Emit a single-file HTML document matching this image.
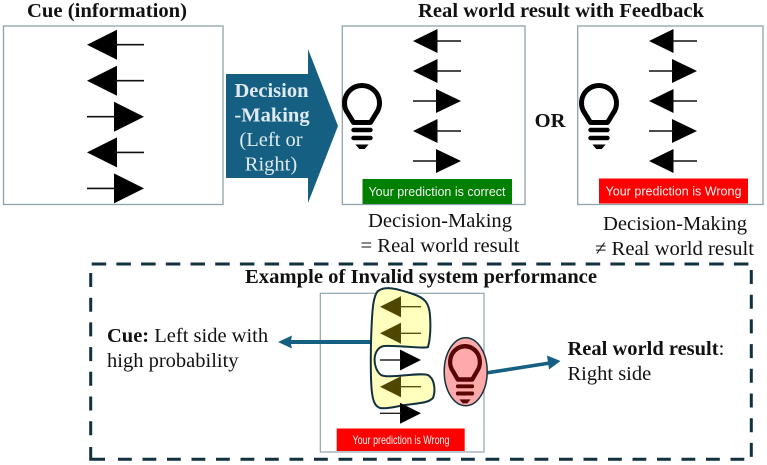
<!DOCTYPE html>
<html><head><meta charset="utf-8"><style>
html,body{margin:0;padding:0;background:#fff}
svg{display:block;filter:blur(.3px)}
text{font-family:"Liberation Serif",serif;fill:#111}
.b{font-weight:bold}
.s{font-family:"Liberation Sans",sans-serif;fill:#f4f4f4;font-size:12.5px}
</style></head><body>
<svg width="767" height="465" viewBox="0 0 767 465" xmlns="http://www.w3.org/2000/svg">
<defs>
<g id="L1"><path d="M-57 0 L-27 -15 L-27 15 Z" fill="#000"/><path d="M-30 0 H0" stroke="#111" stroke-width="1.6"/></g>
<g id="R1"><path d="M0 0 L-30 -15 L-30 15 Z" fill="#000"/><path d="M-57 0 H-28" stroke="#111" stroke-width="1.6"/></g>
<g id="L2"><path d="M-48 0 L-23.5 -12 L-23.5 12 Z" fill="#000"/><path d="M-26 0 H0" stroke="#111" stroke-width="1.5"/></g>
<g id="R2"><path d="M0 0 L-25 -12 L-25 12 Z" fill="#000"/><path d="M-48 0 H-23" stroke="#111" stroke-width="1.5"/></g>
<g id="bulb">
<path d="M-8.5 122.5 L-14 113.5 A17.5 17.5 0 1 1 14 113.5 L8.5 122.5 Z" fill="none" stroke-width="5" stroke-linejoin="round" stroke="currentColor"/>
<path d="M-8.5 130H8.5M-8.5 138H8.5" fill="none" stroke="currentColor" stroke-width="4.4" stroke-linecap="round"/>
<path d="M-5.5 145H5.5L2.5 148.5H-2.5Z" fill="currentColor" stroke="currentColor" stroke-width="1"/>
</g>
</defs>
<rect width="767" height="465" fill="#fff"/>

<text x="27" y="17" class="b" font-size="20.5" textLength="160" lengthAdjust="spacingAndGlyphs">Cue (information)</text>
<text x="418" y="17" class="b" font-size="20.5" textLength="286" lengthAdjust="spacingAndGlyphs">Real world result with Feedback</text>

<rect x="3.5" y="26" width="219.5" height="178.5" fill="#fff" stroke="#8fa3ab" stroke-width="1.3"/>
<use href="#L1" transform="translate(144 44.7)"/>
<use href="#L1" transform="translate(144 80.7)"/>
<use href="#R1" transform="translate(144 116.7)"/>
<use href="#L1" transform="translate(144 152.4)"/>
<use href="#R1" transform="translate(144 188.4)"/>

<path d="M226 74 H308 V49 L338 126 L308 203 V178 H226 Z" fill="#156082"/>
<text x="271.5" y="97" class="b" font-size="20.5" text-anchor="middle" style="fill:#dfeaf0">Decision</text>
<text x="272" y="121.5" class="b" font-size="20.5" text-anchor="middle" style="fill:#dfeaf0">-Making</text>
<text x="271" y="146" font-size="20.5" text-anchor="middle" style="fill:#dfeaf0">(Left or</text>
<text x="271" y="170.5" font-size="20.5" text-anchor="middle" style="fill:#dfeaf0">Right)</text>

<rect x="342.3" y="26" width="182.7" height="178.5" fill="#fff" stroke="#8fa3ab" stroke-width="1.3"/>
<use href="#L2" transform="translate(461 41)"/>
<use href="#L2" transform="translate(461 71)"/>
<use href="#R2" transform="translate(461 101)"/>
<use href="#L2" transform="translate(461 131)"/>
<use href="#R2" transform="translate(461 161)"/>
<use href="#bulb" x="362" style="color:#000"/>
<rect x="362.5" y="179" width="149.5" height="25" fill="#008000"/>
<text x="368.5" y="196" class="s" textLength="137" lengthAdjust="spacingAndGlyphs">Your prediction is correct</text>

<text x="550" y="127" class="b" font-size="20.5" text-anchor="middle">OR</text>

<rect x="577.7" y="26" width="185.3" height="178.5" fill="#fff" stroke="#8fa3ab" stroke-width="1.3"/>
<use href="#L2" transform="translate(697 41)"/>
<use href="#R2" transform="translate(697 71)"/>
<use href="#L2" transform="translate(697 101)"/>
<use href="#R2" transform="translate(697 131)"/>
<use href="#L2" transform="translate(697 161)"/>
<use href="#bulb" x="599" style="color:#000"/>
<rect x="599" y="178.5" width="149" height="25" fill="#ff0000"/>
<text x="605.5" y="195.5" class="s" textLength="136" lengthAdjust="spacingAndGlyphs">Your prediction is Wrong</text>

<text x="368" y="227" font-size="20.5" textLength="144" lengthAdjust="spacingAndGlyphs">Decision-Making</text>
<text x="360.5" y="252" font-size="20.5" textLength="159" lengthAdjust="spacingAndGlyphs">= Real world result</text>
<text x="603" y="230" font-size="20.5" textLength="144" lengthAdjust="spacingAndGlyphs">Decision-Making</text>
<text x="595" y="255" font-size="20.5" textLength="159" lengthAdjust="spacingAndGlyphs">≠ Real world result</text>

<g fill="none" stroke="#12313f" stroke-width="3">
<path d="M91.7 264 H749" stroke-dasharray="14.5 10.2"/>
<path d="M751.3 270 V457" stroke-dasharray="14 10.7"/>
<path d="M744.3 459.3 H115" stroke-dasharray="13.8 10.7"/>
<path d="M90.7 273 V440" stroke-dasharray="14 10.7"/>
<path d="M90.7 447 V459.3 H105"/>
</g>
<text x="245" y="283" class="b" font-size="20.5" textLength="352" lengthAdjust="spacingAndGlyphs">Example of Invalid system performance</text>

<text x="107" y="342" font-size="20.5"><tspan class="b">Cue:</tspan> Left side with</text>
<text x="107" y="367" font-size="20.5">high probability</text>
<text x="567.5" y="355" font-size="20.5"><tspan class="b">Real world result</tspan>:</text>
<text x="567.5" y="380" font-size="20.5">Right side</text>

<rect x="320.3" y="293.3" width="163.7" height="158.7" fill="#fff" stroke="#8fa3ab" stroke-width="1.2"/>
<path d="M278 342 L292 335.5 L291 340 H372 V344 H291 L292 348.5 Z" fill="#156082"/>
<path d="M486 373 L550 363" stroke="#156082" stroke-width="3.6" fill="none"/>
<path d="M560.5 361 L547 355.5 L549 369.5 Z" fill="#156082"/>

<path d="M371 342 C372 310 373 296 378 291 C385 286 395 288 413 294 C425 298 429 303 430 315 C431 330 430 340 428 347 C425 349 395 345 384 346 C372 348 372 368 381 375 C388 379 420 372 428 375 C436 380 435 393 433 398 C428 403 420 403 405 405 C395 407 385 409 380 408 C372 405 370 395 371 342 Z" fill="#ffffbe" stroke="#12313f" stroke-width="2"/>

<g transform="translate(421 306.7)"><path d="M-41 0 L-20 -10.5 L-20 10.5 Z" fill="#4f4700"/><path d="M-22 0 H0" stroke="#5a5208" stroke-width="1.4"/></g>
<g transform="translate(421 333.3)"><path d="M-41 0 L-20 -10.5 L-20 10.5 Z" fill="#4f4700"/><path d="M-22 0 H0" stroke="#5a5208" stroke-width="1.4"/></g>
<g transform="translate(421 360)"><path d="M0 0 L-21 -10.5 L-21 10.5 Z" fill="#000"/><path d="M-41 0 H-20" stroke="#222" stroke-width="1.4"/></g>
<g transform="translate(421 386.7)"><path d="M-41 0 L-20 -10.5 L-20 10.5 Z" fill="#4f4700"/><path d="M-22 0 H0" stroke="#5a5208" stroke-width="1.4"/></g>
<g transform="translate(421 413.3)"><path d="M0 0 L-21 -10.5 L-21 10.5 Z" fill="#000"/><path d="M-41 0 H-20" stroke="#222" stroke-width="1.4"/></g>

<ellipse cx="465.7" cy="371.7" rx="21.5" ry="34" fill="#ffaaaa" stroke="#12313f" stroke-width="1.5"/>
<use href="#bulb" transform="translate(465 269.3) scale(.85 .9)" style="color:#5a0505"/>

<rect x="336.7" y="428.5" width="128" height="22.5" fill="#ff0000"/>
<text x="352.5" y="444" class="s" style="font-size:12px" textLength="97" lengthAdjust="spacingAndGlyphs">Your prediction is Wrong</text>
</svg>
</body></html>
